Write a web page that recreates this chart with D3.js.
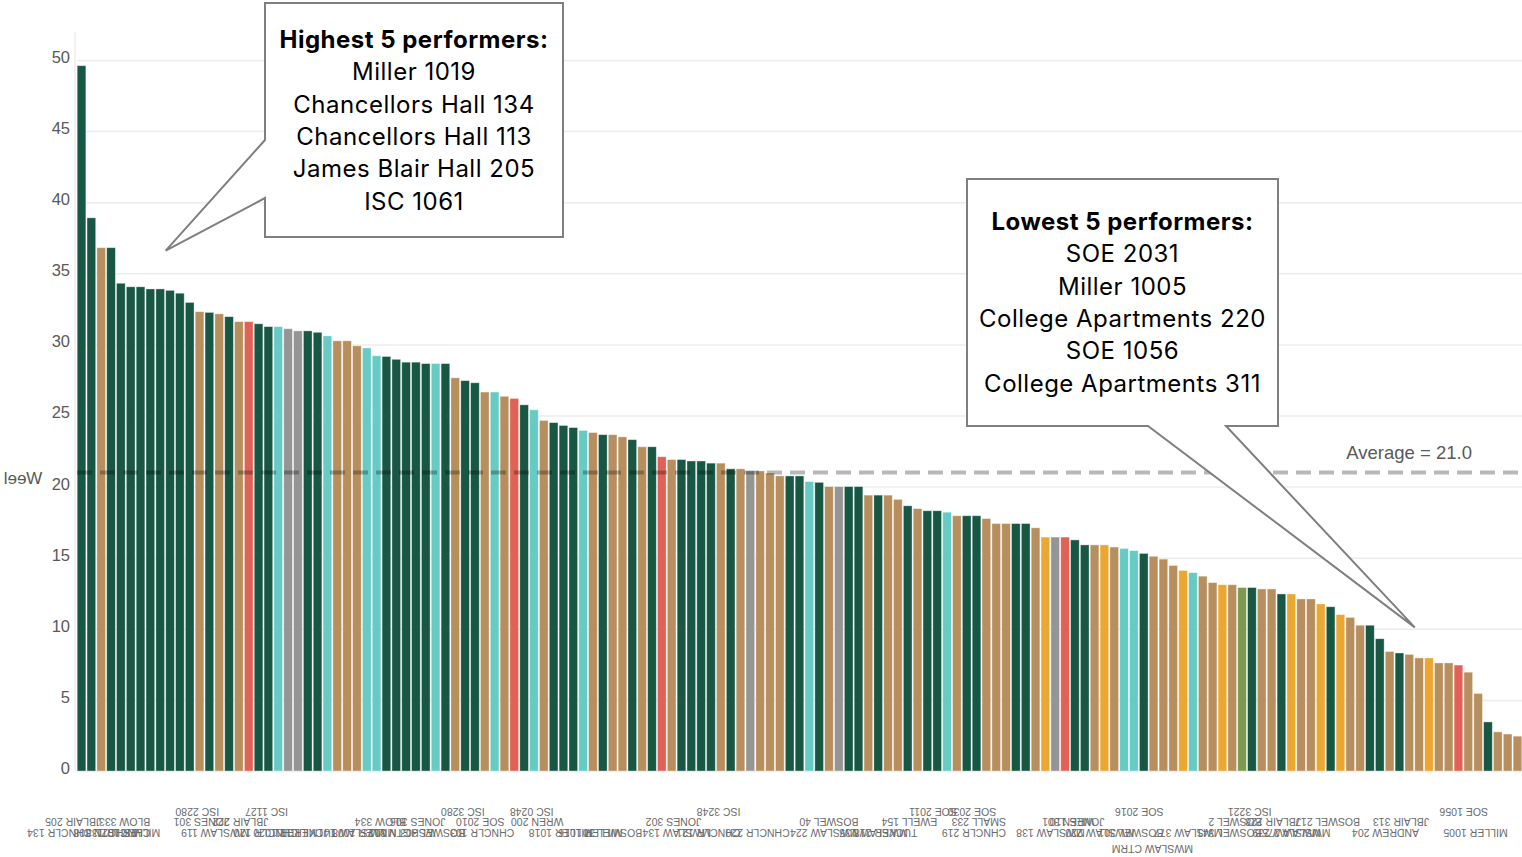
<!DOCTYPE html>
<html>
<head>
<meta charset="utf-8">
<script src="https://cdn.jsdelivr.net/npm/d3@7"></script>
<style>
  body { margin: 0; background: #fff; }
  svg { display: block; }
</style>
</head>
<body>
<div id="chart"></div>
<script>
'use strict';

// one value per room, already sorted high -> low
const values = [
  49.6, 38.9, 36.8, 36.8, 34.3, 34.05, 34.05, 33.9, 33.9, 33.8,
  33.6, 32.95, 32.3, 32.25, 32.15, 31.95, 31.6, 31.6, 31.45, 31.25,
  31.25, 31.1, 30.95, 30.95, 30.85, 30.6, 30.25, 30.25, 29.9, 29.75,
  29.2, 29.15, 28.95, 28.75, 28.75, 28.65, 28.65, 28.65, 27.65, 27.45,
  27.3, 26.65, 26.65, 26.35, 26.2, 25.75, 25.4, 24.65, 24.5, 24.3,
  24.15, 23.95, 23.8, 23.65, 23.65, 23.5, 23.3, 22.8, 22.8, 22.1,
  21.9, 21.9, 21.8, 21.8, 21.65, 21.65, 21.25, 21.25, 21.1, 21.1,
  20.95, 20.75, 20.75, 20.75, 20.35, 20.3, 20.0, 20.0, 20.0, 20.0,
  19.4, 19.4, 19.4, 19.1, 18.65, 18.45, 18.3, 18.3, 18.2, 17.95,
  17.95, 17.95, 17.75, 17.4, 17.4, 17.4, 17.4, 17.1, 16.45, 16.45,
  16.45, 16.25, 15.9, 15.9, 15.9, 15.75, 15.65, 15.5, 15.3, 15.1,
  14.9, 14.45, 14.1, 13.95, 13.7, 13.25, 13.1, 13.1, 12.9, 12.9,
  12.8, 12.8, 12.45, 12.45, 12.1, 12.1, 11.75, 11.55, 11.0, 10.8,
  10.25, 10.25, 9.3, 8.4, 8.3, 8.2, 7.95, 7.95, 7.6, 7.6,
  7.45, 6.95, 5.45, 3.45, 2.75, 2.6, 2.45
];

// building group of each bar (g green, t tan, q teal, r red, s grey, o orange, l olive)
const groups = [
  'g','g','t','g','g','g','g','g','g','g',
  'g','g','t','g','t','g','t','r','g','g',
  'q','s','s','g','g','q','t','t','t','q',
  'q','g','g','g','g','g','q','g','t','g',
  'g','t','q','t','r','g','q','t','g','g',
  'g','q','t','g','t','t','g','t','g','r',
  't','g','g','g','g','t','g','t','s','t',
  't','t','g','g','q','g','t','s','g','g',
  't','g','t','t','g','t','g','g','q','t',
  'g','g','t','t','t','g','g','t','o','s',
  'r','g','g','t','o','t','q','q','g','t',
  't','t','o','q','t','t','o','t','l','g',
  't','t','g','o','t','t','o','g','o','t',
  't','g','g','t','g','t','t','o','t','t',
  'r','t','t','g','t','t','t'
];

const groupKeys = ['g', 't', 'q', 'r', 's', 'o', 'l'];
const groupColors = ['#175744', '#b78f5e', '#67cbc5', '#e06155', '#959595', '#eaa732', '#7b9a50'];

// x tick labels: [bar index, text, row]
const tickLabels = [
  [14, 'ISC 2280', 0], [21, 'ISC 1127', 0], [41, 'ISC 3280', 0], [48, 'ISC 0248', 0],
  [67, 'ISC 3248', 0], [89, 'SOE 2011', 0], [93, 'SOE 2030', 0], [110, 'SOE 2016', 0],
  [121, 'ISC 3221', 0], [143, 'SOE 1056', 0],
  [2, 'JBLAIR 205', 1], [7, 'BLOW 333', 1], [15, 'JONES 301', 1], [19, 'JBLAIR 222', 1],
  [33, 'BLOW 334', 1], [37, 'JONES 306', 1], [43, 'SOE 2010', 1], [49, 'WREN 200', 1],
  [63, 'JONES 302', 1], [79, 'BOSWEL 40', 1], [87, 'EWELL 154', 1], [94, 'SMALL 233', 1],
  [103, 'WREN 301', 1], [104, 'JONES 110', 1], [120, 'BOSWEL 2', 1], [124, 'JBLAIR 228', 1],
  [130, 'BOSWEL 217', 1], [137, 'JBLAIR 313', 1],
  [1, 'CHNCLR 134', 2], [6, 'WSHGTN 308', 2], [7, 'CHNCLR 133', 2], [8, 'MILLER 1021', 2],
  [17, 'MWSLAW 119', 2], [22, 'CHNCLR 120', 2], [24, 'MILLER 1020', 2], [26, 'TUCKER 111', 2],
  [31, 'MWSLAW 141', 2], [32, 'MILLER 1008', 2], [36, 'WSHGTN 302', 2], [39, 'BOSWEL 303', 2],
  [44, 'CHNCLR 103', 2], [52, 'MILLER 1018', 2], [55, 'MILLER 1016', 2], [57, 'BOSWEL 30', 2],
  [64, 'MWSLAW 134', 2], [67, 'CHNCLR 121', 2], [72, 'CHNCLR 220', 2], [79, 'MWSLAW 224', 2],
  [84, 'MWSLAW 135', 2], [85, 'TUCKER 218', 2], [94, 'CHNCLR 219', 2], [102, 'MWSLAW 138', 2],
  [107, 'MWSLAW 220', 2], [110, 'BOSWEL 301', 2], [116, 'MWSLAW 377', 2], [120, 'BOSWEL 341', 2],
  [126, 'MWSLAW 239', 2], [127, 'MWSLAW 275', 2], [136, 'ANDREW 204', 2], [145, 'MILLER 1005', 2],
  [113, 'MWSLAW CTRM', 3]
];

const yTicks = [0, 5, 10, 15, 20, 25, 30, 35, 40, 45, 50];
const average = 21.0;

const highTitle = 'Highest 5 performers:';
const highNames = ['Miller 1019', 'Chancellors Hall 134', 'Chancellors Hall 113', 'James Blair Hall 205', 'ISC 1061'];
const lowTitle = 'Lowest 5 performers:';
const lowNames = ['SOE 2031', 'Miller 1005', 'College Apartments 220', 'SOE 1056', 'College Apartments 311'];

// callout pointer targets, in data space
const highTip = {i: 9, v: 36.6};
const lowTip = {i: 136, v: 10.1};

let width = 1522, height = 857;
let margin = {top: 60, right: 0, bottom: 86, left: 77};

let svg = d3.select('#chart').append('svg')
    .attr('width', width)
    .attr('height', height);

let x = d3.scaleBand()
    .domain(d3.range(values.length))
    .range([margin.left, width - margin.right])
    .paddingInner(0.12)
    .paddingOuter(0.02);

let y = d3.scaleLinear()
    .domain([0, 50])
    .range([height - margin.bottom, margin.top]);

let color = d3.scaleOrdinal().domain(groupKeys).range(groupColors);

//gridlines + y labels
let yAxis = svg.append('g')
    .attr('transform', 'translate(' + margin.left + ',0)')
    .call(d3.axisLeft(y)
        .tickValues(yTicks)
        .tickSize(-(width - margin.left - margin.right))
        .tickPadding(7));

yAxis.select('.domain').remove();
yAxis.selectAll('line')
    .attr('stroke', '#ececec')
    .attr('stroke-width', 1.5);
yAxis.selectAll('text')
    .attr('fill', '#595959')
    .attr('dy', '0.15em')
    .style('font-family', 'Liberation Sans, Arial, sans-serif')
    .style('font-size', '16.5px');

svg.append('line')
    .attr('x1', margin.left - 2).attr('x2', margin.left - 2)
    .attr('y1', y(52)).attr('y2', y(0))
    .attr('stroke', '#e4e4e4')
    .attr('stroke-width', 1);

// mirrored axis title
svg.append('text')
    .attr('transform', 'translate(23,' + (y(average) + 6) + ') scale(-1,1)')
    .attr('text-anchor', 'middle')
    .attr('dy', '0.35em')
    .attr('fill', '#595959')
    .style('font-family', 'Liberation Sans, Arial, sans-serif')
    .style('font-size', '17px')
    .text('Weel');

//bars
svg.append('g')
    .selectAll('rect')
    .data(values)
    .join('rect')
    .attr('x', (d, i) => x(i))
    .attr('width', x.bandwidth())
    .attr('y', d => y(d))
    .attr('height', d => y(0) - y(d))
    .attr('fill', (d, i) => color(groups[i]))
    .attr('stroke', 'rgba(255,255,255,0.45)')
    .attr('stroke-width', 0.8);

//average line
svg.append('line')
    .attr('x1', margin.left).attr('x2', width)
    .attr('y1', y(average)).attr('y2', y(average))
    .attr('stroke', 'rgba(0,0,0,0.28)')
    .attr('stroke-width', 4)
    .style('stroke-dasharray', '15, 8');

svg.append('text')
    .attr('x', 1472)
    .attr('y', y(average) - 13)
    .attr('text-anchor', 'end')
    .attr('fill', '#595959')
    .style('font-family', 'Liberation Sans, Arial, sans-serif')
    .style('font-size', '18.5px')
    .text('Average = ' + d3.format('.1f')(average));

//x labels, upside down
let rowY = [808, 818, 829, 845];
svg.append('g')
    .selectAll('text')
    .data(tickLabels)
    .join('text')
    .attr('transform', d => 'translate(' + (x(d[0]) + x.bandwidth() / 2) + ',' + rowY[d[2]] + ') rotate(180)')
    .attr('text-anchor', 'start')
    .attr('fill', '#6b6b6b')
    .style('font-family', 'Liberation Sans, Arial, sans-serif')
    .style('font-size', '10.5px')
    .text(d => d[1]);

//callouts
function callout(box, tip, side, title, names, titleY) {
    let tx = x(tip.i), ty = y(tip.v);
    let p = d3.path();
    p.moveTo(box.x0, box.y0);
    p.lineTo(box.x1, box.y0);
    p.lineTo(box.x1, box.y1);
    if (side === 'bottom') {
        p.lineTo(box.a1, box.y1);
        p.lineTo(tx, ty);
        p.lineTo(box.a0, box.y1);
        p.lineTo(box.x0, box.y1);
    } else {
        p.lineTo(box.x0, box.y1);
        p.lineTo(box.x0, box.a1);
        p.lineTo(tx, ty);
        p.lineTo(box.x0, box.a0);
    }
    p.closePath();

    svg.append('path')
        .attr('d', p.toString())
        .attr('fill', '#fff')
        .attr('stroke', '#7f7f7f')
        .attr('stroke-width', 2)
        .attr('stroke-linejoin', 'miter');

    let cx = (box.x0 + box.x1) / 2;
    let t = svg.append('text')
        .attr('text-anchor', 'middle')
        .attr('fill', '#000')
        .style('font-family', 'Inter, sans-serif')
        .style('font-size', '24px')
        .style('letter-spacing', '0.5px');

    t.append('tspan')
        .attr('x', cx)
        .attr('y', titleY)
        .attr('font-weight', 'bold')
        .text(title);

    names.forEach(n => {
        t.append('tspan')
            .attr('x', cx)
            .attr('dy', 32.3)
            .text(n);
    });
}

callout({x0: 265, y0: 3, x1: 563, y1: 237, a0: 140, a1: 198}, highTip, 'left', highTitle, highNames, 48);
callout({x0: 967, y0: 179, x1: 1278, y1: 426, a0: 1148, a1: 1226}, lowTip, 'bottom', lowTitle, lowNames, 230);

</script>
</body>
</html>
